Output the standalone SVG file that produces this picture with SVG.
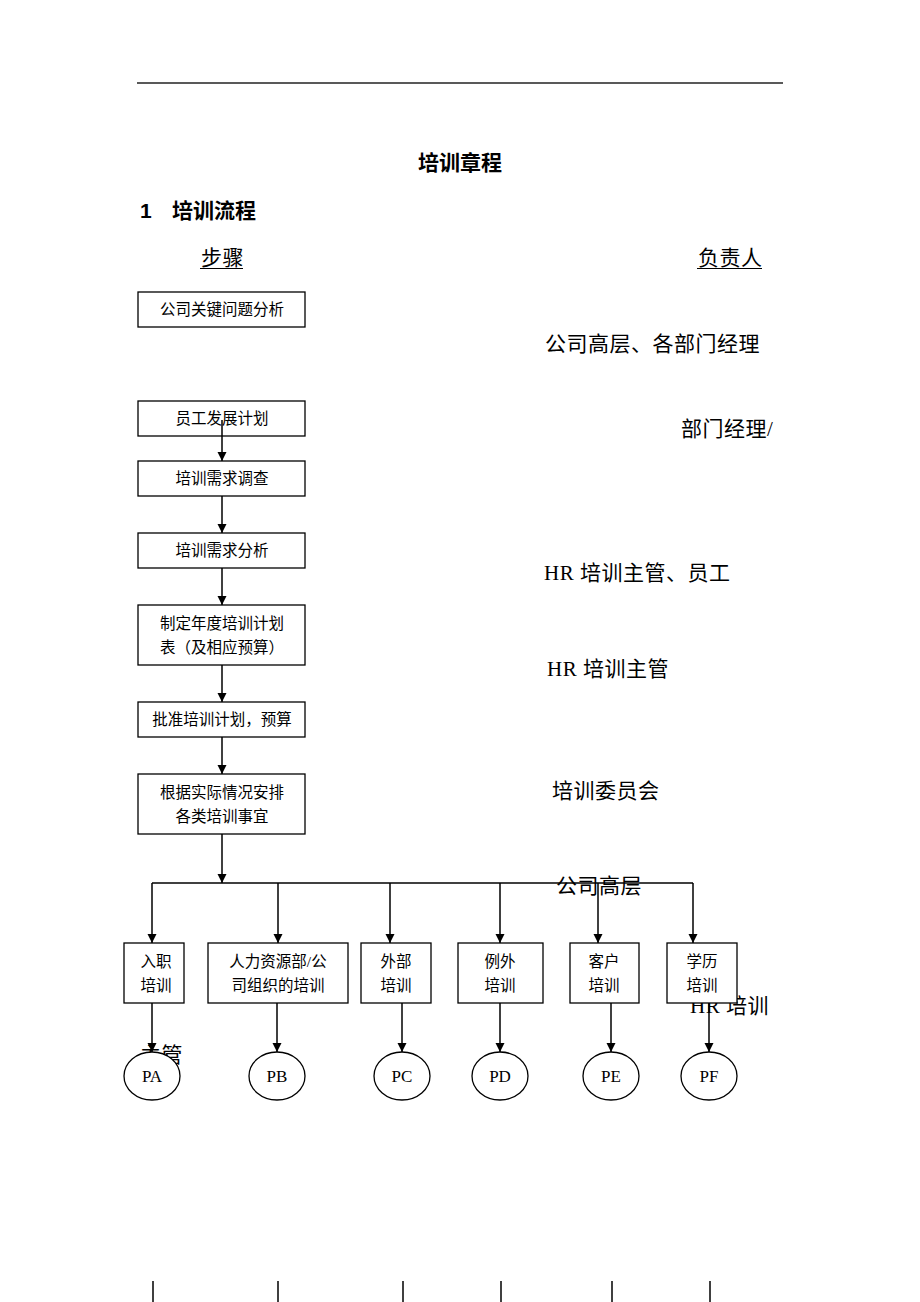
<svg xmlns="http://www.w3.org/2000/svg" width="920" height="1302" viewBox="0 0 920 1302">
<style>
.box{fill:#fff;stroke:#000;stroke-width:1.3}
.ell{fill:#fff;stroke:#000;stroke-width:1.3}
.bt{font-family:"Liberation Serif","Noto Sans CJK SC",serif;font-size:15.5px;fill:#000;text-anchor:middle}
.et{font-family:"Liberation Serif","Noto Sans CJK SC",serif;font-size:17px;fill:#000;text-anchor:middle}
.rt{font-family:"Liberation Serif","Noto Sans CJK SC",serif;font-size:21px;fill:#000;letter-spacing:0.5px}
.hd{font-family:"Liberation Sans","Noto Sans CJK SC",sans-serif;font-size:21px;font-weight:bold;fill:#000}
.ln{stroke:#000;stroke-width:1.5;fill:none}
.ar{stroke:#000;stroke-width:1.5;fill:none;marker-end:url(#ah)}
</style>
<defs>
<marker id="ah" markerUnits="userSpaceOnUse" markerWidth="9" markerHeight="11" refX="9" refY="4.5" orient="auto" viewBox="0 0 9 9">
<path d="M0,0 L9,4.5 L0,9 z" fill="#000"/>
</marker>
</defs>
<rect width="920" height="1302" fill="#fff"/>
<g id="header">
<line x1="137" y1="83" x2="783" y2="83" stroke="#222" stroke-width="1.6"/>
<text class="hd" x="460" y="170" text-anchor="middle">培训章程</text>
<text class="hd" x="140" y="218">1</text>
<text class="hd" x="172" y="218">培训流程</text>
<text class="rt" x="201" y="265">步骤</text>
<line x1="200" y1="268.5" x2="243" y2="268.5" stroke="#000" stroke-width="1"/>
<text class="rt" x="698" y="265">负责人</text>
<line x1="697" y1="268.5" x2="762" y2="268.5" stroke="#000" stroke-width="1"/>
</g>
<g id="responsible">
<text class="rt" x="545" y="351">公司高层、各部门经理</text>
<text class="rt" x="681" y="436">部门经理/</text>
<text class="rt" x="544" y="580">HR 培训主管、员工</text>
<text class="rt" x="547" y="676">HR 培训主管</text>
<text class="rt" x="552" y="798">培训委员会</text>
<text class="rt" x="556" y="893">公司高层</text>
<text class="rt" x="690" y="1013">HR 培训</text>
<text class="rt" x="140" y="1062">主管</text>
</g>
<g id="n1"><rect class="box" x="138" y="292" width="167" height="35"/><text class="bt" x="222" y="315">公司关键问题分析</text></g>
<g id="n2"><rect class="box" x="138" y="401" width="167" height="35"/><text class="bt" x="222" y="424">员工发展计划</text></g>
<g id="n3"><rect class="box" x="138" y="461" width="167" height="35"/><text class="bt" x="222" y="484">培训需求调查</text></g>
<g id="n4"><rect class="box" x="138" y="533" width="167" height="35"/><text class="bt" x="222" y="556">培训需求分析</text></g>
<g id="n5"><rect class="box" x="138" y="605" width="167" height="60"/><text class="bt" x="222" y="629">制定年度培训计划</text><text class="bt" x="222" y="653">表（及相应预算）</text></g>
<g id="n6"><rect class="box" x="138" y="702" width="167" height="35"/><text class="bt" x="222" y="725">批准培训计划，预算</text></g>
<g id="n7"><rect class="box" x="138" y="774" width="167" height="60"/><text class="bt" x="222" y="798">根据实际情况安排</text><text class="bt" x="222" y="822">各类培训事宜</text></g>
<g id="b1"><rect class="box" x="124" y="943" width="60" height="60"/><text class="bt" x="156" y="967">入职</text><text class="bt" x="156" y="991">培训</text></g>
<g id="b2"><rect class="box" x="208" y="943" width="140" height="60"/><text class="bt" x="278" y="967">人力资源部/公</text><text class="bt" x="278" y="991">司组织的培训</text></g>
<g id="b3"><rect class="box" x="361" y="943" width="70" height="60"/><text class="bt" x="396" y="967">外部</text><text class="bt" x="396" y="991">培训</text></g>
<g id="b4"><rect class="box" x="458" y="943" width="85" height="60"/><text class="bt" x="500" y="967">例外</text><text class="bt" x="500" y="991">培训</text></g>
<g id="b5"><rect class="box" x="570" y="943" width="69" height="60"/><text class="bt" x="604" y="967">客户</text><text class="bt" x="604" y="991">培训</text></g>
<g id="b6"><rect class="box" x="667" y="943" width="70" height="60"/><text class="bt" x="702" y="967">学历</text><text class="bt" x="702" y="991">培训</text></g>
<g id="pa"><ellipse class="ell" cx="152" cy="1076" rx="28" ry="24"/><text class="et" x="152" y="1082">PA</text></g>
<g id="pb"><ellipse class="ell" cx="277" cy="1076" rx="28" ry="24"/><text class="et" x="277" y="1082">PB</text></g>
<g id="pc"><ellipse class="ell" cx="402" cy="1076" rx="28" ry="24"/><text class="et" x="402" y="1082">PC</text></g>
<g id="pd"><ellipse class="ell" cx="500" cy="1076" rx="28" ry="24"/><text class="et" x="500" y="1082">PD</text></g>
<g id="pe"><ellipse class="ell" cx="611" cy="1076" rx="28" ry="24"/><text class="et" x="611" y="1082">PE</text></g>
<g id="pf"><ellipse class="ell" cx="709" cy="1076" rx="28" ry="24"/><text class="et" x="709" y="1082">PF</text></g>
<g id="connectors">
<line class="ar" x1="222" y1="420" x2="222" y2="461"/>
<line class="ar" x1="222" y1="496" x2="222" y2="533"/>
<line class="ar" x1="222" y1="568" x2="222" y2="605"/>
<line class="ar" x1="222" y1="665" x2="222" y2="702"/>
<line class="ar" x1="222" y1="737" x2="222" y2="774"/>
<line class="ar" x1="222" y1="834" x2="222" y2="883"/>
<line class="ln" x1="152" y1="883" x2="693" y2="883"/>
<line class="ar" x1="152" y1="883" x2="152" y2="943"/>
<line class="ar" x1="278" y1="883" x2="278" y2="943"/>
<line class="ar" x1="390" y1="883" x2="390" y2="943"/>
<line class="ar" x1="500" y1="883" x2="500" y2="943"/>
<line class="ar" x1="598" y1="883" x2="598" y2="943"/>
<line class="ar" x1="693" y1="883" x2="693" y2="943"/>
<line class="ar" x1="152" y1="1003" x2="152" y2="1052"/>
<line class="ar" x1="277" y1="1003" x2="277" y2="1052"/>
<line class="ar" x1="402" y1="1003" x2="402" y2="1052"/>
<line class="ar" x1="500" y1="1003" x2="500" y2="1052"/>
<line class="ar" x1="611" y1="1003" x2="611" y2="1052"/>
<line class="ar" x1="709" y1="1003" x2="709" y2="1052"/>
<line class="ln" x1="153" y1="1281" x2="153" y2="1302"/>
<line class="ln" x1="278" y1="1281" x2="278" y2="1302"/>
<line class="ln" x1="403" y1="1281" x2="403" y2="1302"/>
<line class="ln" x1="501" y1="1281" x2="501" y2="1302"/>
<line class="ln" x1="612" y1="1281" x2="612" y2="1302"/>
<line class="ln" x1="710" y1="1281" x2="710" y2="1302"/>
</g>
</svg>
